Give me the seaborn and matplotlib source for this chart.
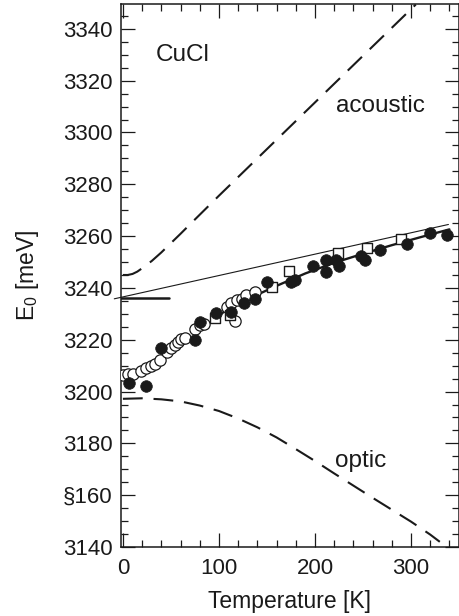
import matplotlib
matplotlib.use("Agg")
import matplotlib.pyplot as plt
import seaborn as sns
from matplotlib.ticker import FixedLocator, FixedFormatter, MultipleLocator

# Acoustic-phonon branch (long dashes, upper)
acoustic_T = [0, 5, 10, 15, 20, 30, 40, 50, 60, 70, 85, 100, 120, 150, 200, 250, 300, 305]
acoustic_E = [3245.0, 3245.0, 3245.4, 3246.3, 3247.6, 3250.4, 3253.7, 3257.3, 3260.9,
              3264.6, 3270.1, 3275.6, 3282.8, 3293.6, 3311.6, 3329.6, 3347.6, 3349.4]

# Optic-phonon branch (dashes, lower)
optic_T = [0, 20, 40, 60, 80, 100, 120, 140, 160, 180, 200, 220, 240, 260, 280, 300, 320, 330]
optic_E = [3197.2, 3197.4, 3197.0, 3196.2, 3194.6, 3192.5, 3189.6, 3186.2, 3182.3, 3177.8,
           3173.2, 3168.4, 3163.7, 3159.0, 3154.4, 3149.8, 3144.8, 3142.0]

# Thin straight line (high-temperature asymptote)
asym_T = [-9, 339]
asym_E = [3235.8, 3264.5]

# Short thick bar marking the unrenormalized gap
bar_T = [-2, 48]
bar_E = [3236.0, 3236.0]

# Thick fit curve through the data
fit_T = [95, 110, 130, 160, 190, 220, 250, 280, 310, 340]
fit_E = [3228.4, 3231.8, 3235.7, 3240.8, 3245.6, 3249.7, 3253.2, 3256.5, 3259.6, 3262.6]

# Measured gap energies
filled_T = [6.5, 24, 40, 75, 80, 97, 113, 126, 138, 150, 175, 179, 197.5, 211, 212, 222,
            225, 247.5, 252, 267.5, 295.5, 320, 338]
filled_E = [3203.3, 3202.2, 3217.0, 3220.0, 3226.7, 3230.2, 3230.8, 3234.1, 3235.8, 3242.4,
            3242.2, 3243.0, 3248.4, 3246.1, 3250.8, 3250.6, 3248.5, 3252.3, 3250.6, 3254.6,
            3257.1, 3261.3, 3260.5]

open_T = [0, 5.5, 11, 19, 24.5, 29, 33.5, 38.5, 45.5, 50.5, 54, 57.5, 61, 65, 75, 80, 84,
          108, 113, 116.7, 118.5, 123.5, 128.5, 137.5]
open_E = [3206.2, 3206.9, 3206.8, 3207.8, 3209.0, 3210.0, 3210.8, 3212.3, 3215.3, 3216.7,
          3218.0, 3219.2, 3220.1, 3220.8, 3224.2, 3225.5, 3226.0, 3232.5, 3234.0, 3227.4,
          3235.4, 3235.6, 3237.3, 3238.6]

square_T = [96, 112, 155, 172.5, 224, 254, 290]
square_E = [3228.4, 3229.6, 3240.5, 3246.7, 3253.4, 3255.3, 3258.8]

# Axis ticks and labels
x_ticks = [0, 100, 200, 300]
x_ticklabels = ["0", "100", "200", "300"]
y_ticks = [3140, 3160, 3180, 3200, 3220, 3240, 3260, 3280, 3300, 3320, 3340]
y_ticklabels = ["3140", "§160", "3180", "3200", "3220", "3240", "3260", "3280", "3300",
                "3320", "3340"]

sns.set_theme(style="ticks")
plt.rcParams["font.family"] = ["Liberation Sans", "DejaVu Sans"]
plt.rcParams["mathtext.fontset"] = "custom"
plt.rcParams["mathtext.rm"] = "Liberation Sans"

ink = "#1a1a1a"
fig = plt.figure(figsize=(4.6, 6.16), dpi=100)
ax = fig.add_axes([121 / 460, 1 - 547 / 616, (459 - 121) / 460, (547 - 4) / 616])

dash = (0, (9.5, 5.2))
sns.lineplot(x=acoustic_T, y=acoustic_E, ax=ax, color=ink, lw=1.5, linestyle=dash, zorder=2)
sns.lineplot(x=optic_T, y=optic_E, ax=ax, color=ink, lw=1.5, linestyle=dash, zorder=2)
sns.lineplot(x=asym_T, y=asym_E, ax=ax, color=ink, lw=0.8, clip_on=False, zorder=2)
sns.lineplot(x=bar_T, y=bar_E, ax=ax, color=ink, lw=1.8, zorder=2)
sns.lineplot(x=fit_T, y=fit_E, ax=ax, color=ink, lw=1.7, zorder=2)

sns.scatterplot(x=open_T, y=open_E, ax=ax, marker="o", s=66, color="white",
                edgecolor=ink, linewidth=0.9, zorder=3)
sns.scatterplot(x=square_T, y=square_E, ax=ax, marker="s", s=54, color="white",
                edgecolor=ink, linewidth=1.0, zorder=4)
sns.scatterplot(x=filled_T, y=filled_E, ax=ax, marker="o", s=70, color=ink,
                edgecolor=ink, linewidth=0.5, zorder=5)

ax.set_xlim(-2, 350)
ax.set_ylim(3140, 3349.6)

ax.xaxis.set_major_locator(FixedLocator(x_ticks))
ax.xaxis.set_major_formatter(FixedFormatter(x_ticklabels))
ax.xaxis.set_minor_locator(MultipleLocator(20))
ax.yaxis.set_major_locator(FixedLocator(y_ticks))
ax.yaxis.set_major_formatter(FixedFormatter(y_ticklabels))
ax.yaxis.set_minor_locator(MultipleLocator(5))

ax.tick_params(which="both", direction="in", top=True, right=True, color=ink,
               labelcolor=ink, width=0.9)
ax.tick_params(which="major", length=10, labelsize=16)
ax.tick_params(which="minor", length=5)
ax.tick_params(axis="x", which="major", pad=8)
ax.tick_params(axis="y", which="major", pad=6)

for side in ax.spines.values():
    side.set_linewidth(1.1)
    side.set_color(ink)

ax.set_xlabel("Temperature [K]", fontsize=16.5, color=ink, labelpad=8)
ax.set_ylabel(r"E$_\mathregular{0}$ [meV]", fontsize=16.5, color=ink, labelpad=16)

ax.text(34, 3330, "CuCl", fontsize=17.5, color=ink, ha="left", va="center")
ax.text(222, 3308, "acoustic", fontsize=17.5, color=ink, ha="left", va="baseline")
ax.text(221, 3171, "optic", fontsize=17.5, color=ink, ha="left", va="baseline")

fig.savefig("out.png", dpi=100)
